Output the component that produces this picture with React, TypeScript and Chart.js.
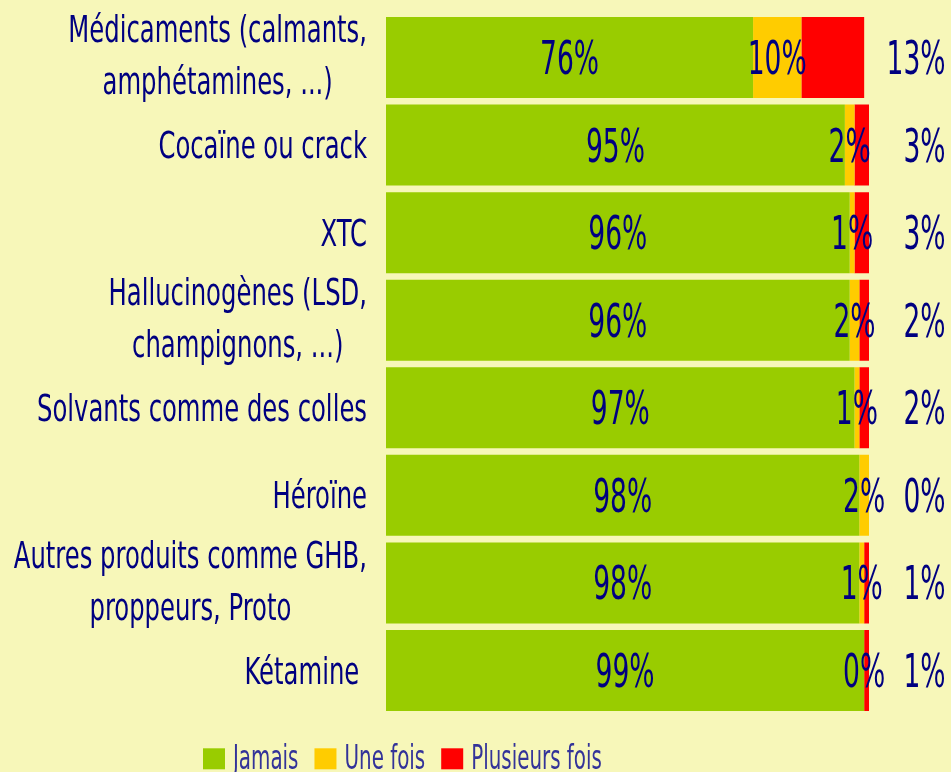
import React, { useEffect, useRef } from "react";
import { Chart, registerables } from "chart.js";

Chart.register(...registerables);

const categories: string[][] = [
  ["Médicaments (calmants,", "amphétamines, ...)"],
  ["Cocaïne ou crack"],
  ["XTC"],
  ["Hallucinogènes (LSD,", "champignons, ...)"],
  ["Solvants comme des colles"],
  ["Héroïne"],
  ["Autres produits comme GHB,", "proppeurs, Proto"],
  ["Kétamine "],
];

const seriesNames = ["Jamais", "Une fois", "Plusieurs fois"];
const jamais = [76, 95, 96, 96, 97, 98, 98, 99];
const uneFois = [10, 2, 1, 2, 1, 2, 1, 0];
const plusieursFois = [13, 3, 3, 2, 2, 0, 1, 1];
const seriesColors = ["#99CC00", "#FFCC00", "#FF0000"];

const BG = "#F7F7B9";
const NAVY = "#000080";
const LEGEND_TEXT = "#333399";
const FONT = '"Liberation Sans Narrow", "DejaVu Sans Condensed", "Liberation Sans", sans-serif';

function drawScaled(
  ctx: CanvasRenderingContext2D,
  text: string,
  x: number,
  y: number,
  sx: number,
  align: CanvasTextAlign
) {
  ctx.save();
  ctx.translate(x, y);
  ctx.scale(sx, 1);
  ctx.textAlign = align;
  ctx.textBaseline = "alphabetic";
  ctx.fillText(text, 0, 0);
  ctx.restore();
}

const textPlugin = {
  id: "customText",
  afterDatasetsDraw(chart: any) {
    const ctx: CanvasRenderingContext2D = chart.ctx;
    const area = chart.chartArea;
    const yScale = chart.scales.y;

    // Category labels
    ctx.save();
    ctx.fillStyle = NAVY;
    ctx.font = `38px ${FONT}`;
    const catScale = 330 / ctx.measureText("Solvants comme des colles").width;
    const rightEdge = area.left - 19;
    categories.forEach((lines, i) => {
      const y = yScale.getPixelForValue(i);
      const widths = lines.map((l) => ctx.measureText(l).width * catScale);
      const maxW = Math.max(...widths);
      const cx = rightEdge - maxW / 2;
      if (lines.length === 1) {
        drawScaled(ctx, lines[0], cx, y + 13, catScale, "center");
      } else {
        drawScaled(ctx, lines[0], cx, y - 15, catScale, "center");
        drawScaled(ctx, lines[1], cx, y + 37, catScale, "center");
      }
    });
    ctx.restore();

    // Data labels
    ctx.save();
    ctx.fillStyle = NAVY;
    ctx.font = `46px ${FONT}`;
    const dataScale = 59 / ctx.measureText("76%").width;
    [0, 1].forEach((di) => {
      const meta = chart.getDatasetMeta(di);
      const vals = chart.data.datasets[di].data as number[];
      meta.data.forEach((el: any, i: number) => {
        const cx = (el.x + el.base) / 2;
        drawScaled(ctx, `${vals[i]}%`, cx, el.y + 16.5, dataScale, "center");
      });
    });
    const meta2 = chart.getDatasetMeta(2);
    const vals2 = chart.data.datasets[2].data as number[];
    meta2.data.forEach((el: any, i: number) => {
      drawScaled(ctx, `${vals2[i]}%`, area.right + 76.5, el.y + 16.5, dataScale, "right");
    });
    ctx.restore();

    // Legend
    ctx.save();
    ctx.font = `33px ${FONT}`;
    const legScale = 130.7 / ctx.measureText("Plusieurs fois").width;
    let x = 203;
    const baseline = area.bottom + 55;
    seriesNames.forEach((name, i) => {
      ctx.fillStyle = seriesColors[i];
      ctx.fillRect(x, baseline - 21, 22, 21);
      x += 22 + 8;
      ctx.fillStyle = LEGEND_TEXT;
      drawScaled(ctx, name, x, baseline, legScale, "left");
      x += ctx.measureText(name).width * legScale + 16;
    });
    ctx.restore();
  },
};

export default function App() {
  const canvasRef = useRef<HTMLCanvasElement | null>(null);

  useEffect(() => {
    document.body.style.margin = "0";
    document.body.style.background = BG;
    const canvas = canvasRef.current;
    if (!canvas) return;
    const chart = new Chart(canvas, {
      type: "bar",
      data: {
        labels: categories.map((c) => c.join(" ")),
        datasets: [jamais, uneFois, plusieursFois].map((d, i) => ({
          label: seriesNames[i],
          data: d,
          backgroundColor: seriesColors[i],
          borderWidth: 0,
          barPercentage: 0.925,
          categoryPercentage: 1,
        })),
      },
      options: {
        indexAxis: "y",
        animation: false,
        responsive: true,
        maintainAspectRatio: false,
        layout: {
          padding: { left: 386, right: 82, top: 13.7, bottom: 57.7 },
        },
        scales: {
          x: { stacked: true, min: 0, max: 100, display: false },
          y: { stacked: true, display: false },
        },
        plugins: {
          legend: { display: false },
          tooltip: { enabled: false },
        },
      },
      plugins: [textPlugin],
    });
    return () => chart.destroy();
  }, []);

  return (
    <div
      style={{
        position: "absolute",
        left: 0,
        top: 0,
        width: 951,
        height: 772,
        background: BG,
      }}
    >
      <canvas ref={canvasRef} />
    </div>
  );
}
